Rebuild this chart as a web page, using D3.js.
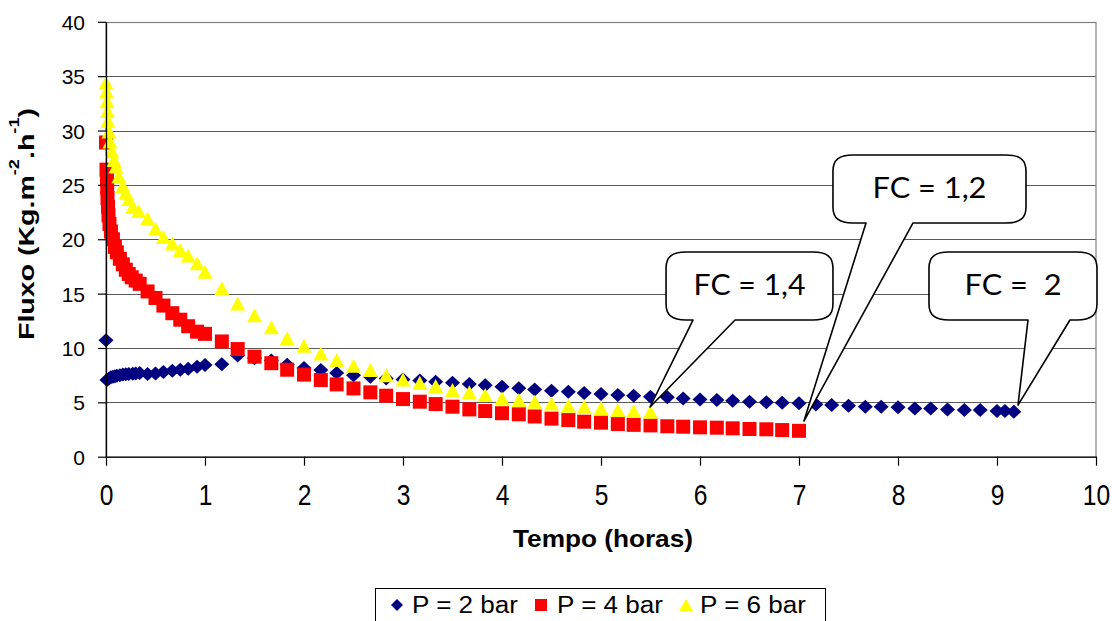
<!DOCTYPE html>
<html>
<head>
<meta charset="utf-8">
<script src="https://cdn.jsdelivr.net/npm/d3@7"></script>
<style>
  html, body { margin: 0; padding: 0; background: #fff; }
  svg { display: block; }
  text { font-family: "Liberation Sans", Arial, sans-serif; fill: #000; }
</style>
</head>
<body>
<svg id="chart" width="1112" height="621"></svg>
<script>
// ---------- DATA ----------
const xTicks = [0, 1, 2, 3, 4, 5, 6, 7, 8, 9, 10];
const yTicks = [0, 5, 10, 15, 20, 25, 30, 35, 40];

// P = 2 bar
const tempo2 = [0, 0.01, 0.03, 0.05, 0.07, 0.09, 0.11, 0.14, 0.17, 0.2, 0.23, 0.27, 0.3, 0.34,
  0.42, 0.5, 0.58, 0.67, 0.75, 0.83, 0.92, 1.0, 1.17, 1.33, 1.5, 1.67, 1.83, 2.0, 2.17, 2.33,
  2.5, 2.67, 2.83, 3.0, 3.17, 3.33, 3.5, 3.67, 3.83, 4.0, 4.17, 4.33, 4.5, 4.67, 4.83, 5.0,
  5.17, 5.33, 5.5, 5.67, 5.83, 6.0, 6.17, 6.33, 6.5, 6.67, 6.83, 7.0, 7.17, 7.33, 7.5, 7.67,
  7.83, 8.0, 8.17, 8.33, 8.5, 8.67, 8.83, 9.0, 9.08, 9.17];
const fluxo2 = [10.7, 7.05, 7.2, 7.3, 7.35, 7.4, 7.45, 7.5, 7.55, 7.58, 7.6, 7.62, 7.65, 7.7,
  7.6, 7.66, 7.8, 7.9, 8.0, 8.1, 8.27, 8.43, 8.5, 9.3, 9.05, 8.85, 8.45, 8.15, 7.97, 7.7,
  7.5, 7.35, 7.2, 7.1, 7.02, 6.9, 6.8, 6.68, 6.58, 6.43, 6.3, 6.19, 6.07, 5.98, 5.85, 5.76,
  5.67, 5.6, 5.52, 5.46, 5.36, 5.27, 5.21, 5.15, 5.06, 5.0, 4.97, 4.91, 4.81, 4.75, 4.69, 4.6,
  4.6, 4.54, 4.44, 4.44, 4.35, 4.29, 4.29, 4.2, 4.2, 4.14];

// P = 4 bar
const tempo4 = [0, 0.005, 0.01, 0.012, 0.015, 0.02, 0.025, 0.035, 0.05, 0.07, 0.09, 0.11, 0.14,
  0.17, 0.2, 0.23, 0.26, 0.3, 0.34, 0.42, 0.5, 0.58, 0.67, 0.75, 0.83, 0.92, 1.0, 1.17, 1.33,
  1.5, 1.67, 1.83, 2.0, 2.17, 2.33, 2.5, 2.67, 2.83, 3.0, 3.17, 3.33, 3.5, 3.67, 3.83, 4.0,
  4.17, 4.33, 4.5, 4.67, 4.83, 5.0, 5.17, 5.33, 5.5, 5.67, 5.83, 6.0, 6.17, 6.33, 6.5, 6.67,
  6.83, 7.0];
const fluxo4 = [28.9, 26.4, 25.6, 24.7, 23.8, 23.0, 22.2, 21.4, 20.7, 20.0, 19.3, 18.8, 18.2,
  17.7, 17.2, 16.8, 16.5, 16.2, 15.9, 15.2, 14.6, 13.9, 13.2, 12.6, 12.0, 11.5, 11.3, 10.6, 9.9,
  9.2, 8.6, 8.0, 7.55, 7.05, 6.65, 6.28, 5.92, 5.61, 5.3, 5.06, 4.84, 4.6, 4.35, 4.2, 4.0,
  3.9, 3.7, 3.5, 3.37, 3.22, 3.13, 3.0, 2.93, 2.88, 2.8, 2.76, 2.7, 2.67, 2.61, 2.55, 2.52,
  2.45, 2.38];

// P = 6 bar
const tempo6 = [0, 0.005, 0.01, 0.015, 0.02, 0.03, 0.04, 0.06, 0.08, 0.1, 0.13, 0.17, 0.2, 0.23,
  0.27, 0.33, 0.42, 0.5, 0.58, 0.67, 0.75, 0.83, 0.92, 1.0, 1.17, 1.33, 1.5, 1.67, 1.83, 2.0,
  2.17, 2.33, 2.5, 2.67, 2.83, 3.0, 3.17, 3.33, 3.5, 3.67, 3.83, 4.0, 4.17, 4.33, 4.5, 4.67,
  4.83, 5.0, 5.17, 5.33, 5.5];
const fluxo6 = [34.4, 33.6, 32.7, 31.8, 30.9, 29.9, 29.0, 28.1, 27.3, 26.7, 25.8, 24.9, 24.3, 23.7,
  23.0, 22.6, 21.9, 21.0, 20.2, 19.6, 19.0, 18.5, 17.8, 17.0, 15.5, 14.1, 13.0, 11.9, 10.9, 10.2,
  9.5, 8.9, 8.37, 7.97, 7.5, 7.1, 6.8, 6.5, 6.13, 5.92, 5.67, 5.37, 5.21, 5.06, 4.9, 4.69,
  4.6, 4.45, 4.29, 4.2, 4.14];

const seriesNames = ["P = 2 bar", "P = 4 bar", "P = 6 bar"];
const seriesColors = ["#000080", "#FF0000", "#FFFF00"];

// callouts (data units: hours, flux)
const calloutTexts = ["FC = 1,4", "FC = 1,2", "FC =  2"];
const calloutBoxT = [[5.657, 7.343], [7.343, 9.293], [8.313, 10.01]];
const calloutBoxV = [[18.83, 12.57], [27.75, 21.5], [18.83, 12.57]];
const calloutTailT = [[5.929, 6.354], [7.677, 8.152], [9.313, 9.737]];
const calloutTip = [[5.495, 4.57], [7.05, 3.28], [9.212, 4.75]];
const calloutTextLen = [112, 114, 97];

// ---------- LAYOUT ----------
const svg = d3.select("#chart");
const x = d3.scaleLinear().domain([0, 10]).range([106, 1096]);
const y = d3.scaleLinear().domain([0, 40]).range([456.7, 21.8]);

// gridlines
svg.append("g").selectAll("line").data(yTicks.filter(d => d > 0)).join("line")
  .attr("x1", x(0)).attr("x2", x(10))
  .attr("y1", d => Math.round(y(d)) + 0.5).attr("y2", d => Math.round(y(d)) + 0.5)
  .attr("stroke", "#5a5a5a").attr("stroke-width", 1);

// plot border
svg.append("rect")
  .attr("x", x(0)).attr("y", Math.round(y(40)) + 0.5)
  .attr("width", x(10) - x(0)).attr("height", y(0) - y(40))
  .attr("fill", "none").attr("stroke", "#808080").attr("stroke-width", 1.2);

// markers
const shapes = [
  "M0,-7L7.5,0L0,7L-7.5,0Z",
  "M-7,-7H7V7H-7Z",
  "M0,-7L7.5,7L-7.5,7Z"
];
const allT = [tempo2, tempo4, tempo6];
const allV = [fluxo2, fluxo4, fluxo6];
allT.forEach((ts, si) => {
  svg.append("g").selectAll("path").data(ts.map((t, i) => [t, allV[si][i]])).join("path")
    .attr("d", shapes[si])
    .attr("transform", d => `translate(${x(d[0])},${y(d[1])})`)
    .attr("fill", seriesColors[si]);
});

// axes
const yAxis = svg.append("g").attr("transform", `translate(${x(0)},0)`)
  .call(d3.axisLeft(y).tickValues(yTicks).tickSize(8).tickSizeOuter(0));
yAxis.select(".domain").attr("stroke", "#000").attr("stroke-width", 1.3);
yAxis.selectAll(".tick line").attr("stroke", "#000").attr("stroke-width", 1.2);
yAxis.selectAll(".tick text")
  .attr("x", -21).attr("dy", "0.36em")
  .style("font-size", "21px").style("font-family", '"Liberation Sans", Arial, sans-serif');

const xAxis = svg.append("g").attr("transform", `translate(0,${y(0)})`)
  .call(d3.axisBottom(x).tickValues(xTicks).tickSize(9).tickSizeOuter(0));
xAxis.select(".domain").attr("stroke", "#000").attr("stroke-width", 1.3);
xAxis.selectAll(".tick line").attr("stroke", "#000").attr("stroke-width", 1.2);
xAxis.selectAll(".tick text")
  .attr("y", 0).attr("dy", 0)
  .attr("transform", "translate(0,48) scale(0.82,1)")
  .style("font-size", "30px").style("font-family", '"Liberation Sans", Arial, sans-serif');

// axis titles
svg.append("text")
  .attr("x", 603).attr("y", 546.5)
  .attr("text-anchor", "middle")
  .attr("textLength", 180).attr("lengthAdjust", "spacingAndGlyphs")
  .style("font-size", "24px").style("font-weight", "bold")
  .text("Tempo (horas)");

const yt = svg.append("text")
  .attr("transform", "translate(34,224) rotate(-90)")
  .attr("text-anchor", "middle")
  .style("font-size", "22px").style("font-weight", "bold");
yt.append("tspan").text("Fluxo (Kg.m");
yt.append("tspan").attr("dy", -15).style("font-size", "14px").text("-2");
yt.append("tspan").attr("dy", 15).text(".h");
yt.append("tspan").attr("dy", -15).style("font-size", "14px").text("-1");
yt.append("tspan").attr("dy", 15).text(")");
yt.attr("textLength", 232).attr("lengthAdjust", "spacingAndGlyphs");

// callouts
calloutTexts.forEach((txt, i) => {
  const L = x(calloutBoxT[i][0]), R = x(calloutBoxT[i][1]);
  const T = y(calloutBoxV[i][0]), B = y(calloutBoxV[i][1]);
  const a = x(calloutTailT[i][0]), b = x(calloutTailT[i][1]);
  const tx = x(calloutTip[i][0]), ty = y(calloutTip[i][1]);
  const rx = 20, ry = 16;
  const p = d3.path();
  p.moveTo(L + rx, T);
  p.lineTo(R - rx, T);
  p.bezierCurveTo(R - rx * 0.3, T, R, T + ry * 0.3, R, T + ry);
  p.lineTo(R, B - ry);
  p.bezierCurveTo(R, B - ry * 0.3, R - rx * 0.3, B, R - rx, B);
  p.lineTo(b, B);
  p.lineTo(tx, ty);
  p.lineTo(a, B);
  p.lineTo(L + rx, B);
  p.bezierCurveTo(L + rx * 0.3, B, L, B - ry * 0.3, L, B - ry);
  p.lineTo(L, T + ry);
  p.bezierCurveTo(L, T + ry * 0.3, L + rx * 0.3, T, L + rx, T);
  p.closePath();
  svg.append("path").attr("d", p.toString())
    .attr("fill", "#fff").attr("stroke", "#000").attr("stroke-width", 1.6)
    .attr("stroke-linejoin", "round");
  svg.append("text")
    .attr("x", (L + R) / 2).attr("y", (T + B) / 2 + 9)
    .attr("text-anchor", "middle")
    .attr("textLength", calloutTextLen[i]).attr("lengthAdjust", "spacingAndGlyphs")
    .style("font-family", 'Lato, "Open Sans", sans-serif')
    .style("font-size", "29px")
    .style("white-space", "pre")
    .attr("xml:space", "preserve")
    .text(txt);
});

// legend
const lg = svg.append("g");
lg.append("rect").attr("x", 375.5).attr("y", 588.5).attr("width", 450).attr("height", 50)
  .attr("fill", "#fff").attr("stroke", "#000").attr("stroke-width", 1);
const legMarkX = [397, 541, 686];
const legTextX = [412, 557, 700];
const legShapes = ["M0,-6L6,0L0,6L-6,0Z", "M-6,-6H6V6H-6Z", "M0,-6L7,6L-7,6Z"];
seriesNames.forEach((n, i) => {
  lg.append("path").attr("d", legShapes[i])
    .attr("transform", `translate(${legMarkX[i]},605)`).attr("fill", seriesColors[i]);
  lg.append("text").attr("x", legTextX[i]).attr("y", 613)
    .attr("textLength", 106).attr("lengthAdjust", "spacingAndGlyphs")
    .style("font-size", "23px").text(n);
});
</script>
</body>
</html>
